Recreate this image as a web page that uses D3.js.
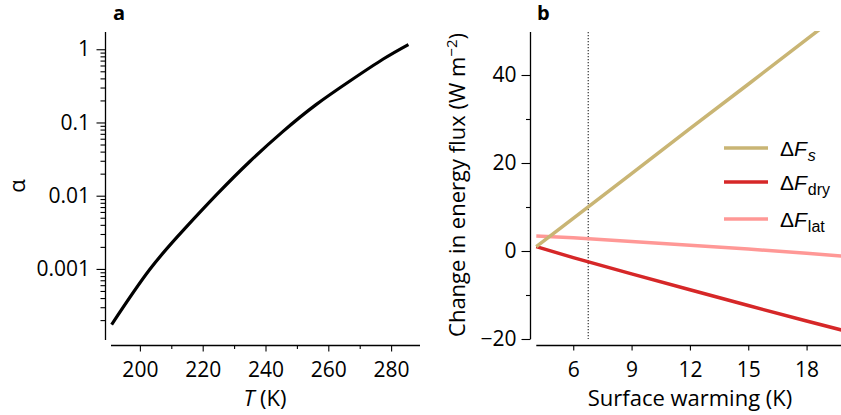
<!DOCTYPE html>
<html>
<head>
<meta charset="utf-8">
<script src="https://cdn.jsdelivr.net/npm/d3@7"></script>
<style>
  html, body { margin: 0; padding: 0; background: #fff; }
  svg { display: block; }
  text { font-family: "Open Sans", "Noto Sans", sans-serif; }
</style>
</head>
<body>
<svg id="chart" width="841" height="415"></svg>
<script>
// ---- Panel a data: alpha vs temperature ----
const tempK = [191, 203, 214, 224.5, 235, 245.5, 256, 267, 277.5, 285.5];
const alphaVals = [1.74e-4, 9.66e-4, 3.44e-3, 0.0104, 0.0293, 0.075, 0.174, 0.3715, 0.736, 1.16];
const aXTicks = [200, 220, 240, 260, 280];
const aXMinor = [210, 230, 250, 270];
const aYTicks = [0.001, 0.01, 0.1, 1];
const aYTickLabels = ["0.001", "0.01", "0.1", "1"];

// ---- Panel b data: change in energy flux vs surface warming ----
const warming = [4.1, 6, 9, 12, 15, 18, 19.8];
const dFs  = [1.0, 7.4, 17.6, 27.8, 37.9, 48.1, 54.2];
const dFdry = [1.0, -1.5, -5.2, -8.8, -12.4, -15.9, -17.95];
const dFlat = [3.4, 3.0, 2.15, 1.3, 0.45, -0.5, -1.15];
const bXTicks = [6, 9, 12, 15, 18];
const bYTicks = [-20, 0, 20, 40];
const bYMinor = [-10, 10, 30];
const refWarming = 6.77;
const seriesNames = ["s", "dry", "lat"];
const seriesColors = ["#c9b574", "#d62728", "#ff9896"];

const svg = d3.select("#chart");
const TFS = 21;   // tick font size
const LFS = 22;   // axis title font size
const padX = (tick) => 377 - 345.5 - tick - 0.71 * TFS;

// ================= Panel a =================
const ax = d3.scaleLinear().domain([190.8, 289.2]).range([111, 420]);
const ay = d3.scaleLog().domain([1.07e-4, 1.72]).range([340, 32]);
const ga = svg.append("g");

const yMinorA = [];
for (let e = -4; e <= 0; e++) for (let k = 2; k <= 9; k++) {
  const v = k * Math.pow(10, e);
  if (v >= ay.domain()[0] && v <= ay.domain()[1]) yMinorA.push(v);
}
ga.append("g").attr("transform", "translate(105.5,0)")
  .call(d3.axisLeft(ay).tickValues(yMinorA).tickSize(5).tickFormat(""))
  .call(g => g.select(".domain").remove());
ga.append("g").attr("transform", "translate(105.5,0)")
  .call(d3.axisLeft(ay).tickValues(aYTicks).tickSize(9).tickSizeOuter(0)
    .tickFormat((d, i) => aYTickLabels[i]).tickPadding(6.5))
  .call(g => g.select(".domain").attr("d", `M0,${ay.range()[1]}V${ay.range()[0]}`));

ga.append("g").attr("transform", "translate(0,345.5)")
  .call(d3.axisBottom(ax).tickValues(aXMinor).tickSize(3.5).tickFormat(""))
  .call(g => g.select(".domain").remove());
ga.append("g").attr("transform", "translate(0,345.5)")
  .call(d3.axisBottom(ax).tickValues(aXTicks).tickSize(6).tickSizeOuter(0).tickPadding(padX(6)))
  .call(g => g.select(".domain").attr("d", `M${ax.range()[0]},0H${ax.range()[1]}`));

ga.append("path")
  .datum(tempK.map((t, i) => [t, alphaVals[i]]))
  .attr("fill", "none").attr("stroke", "#000").attr("stroke-width", 3.2)
  .attr("d", d3.line().x(d => ax(d[0])).y(d => ay(d[1])).curve(d3.curveNatural));

ga.append("text").attr("x", 113).attr("y", 20)
  .attr("font-weight", "bold").attr("font-size", 20).text("a");
ga.append("text").attr("transform", "translate(25,186) rotate(-90)")
  .attr("text-anchor", "middle").attr("font-size", LFS).text("α");
const xtA = ga.append("text").attr("x", 265).attr("y", 405.5).attr("text-anchor", "middle").attr("font-size", LFS);
xtA.append("tspan").attr("font-style", "italic").text("T");
xtA.append("tspan").text(" (K)");

// ================= Panel b =================
const bx = d3.scaleLinear().domain([4.1, 19.77]).range([536.3, 841]);
const by = d3.scaleLinear().domain([-20, 50]).range([339, 31]);
const gb = svg.append("g");

svg.append("defs").append("clipPath").attr("id", "clipb")
  .append("rect").attr("x", 531).attr("y", 31).attr("width", 320).attr("height", 312);

gb.append("g").attr("transform", "translate(530.5,0)")
  .call(d3.axisLeft(by).tickValues(bYMinor).tickSize(4.5).tickFormat(""))
  .call(g => g.select(".domain").remove());
gb.append("g").attr("transform", "translate(530.5,0)")
  .call(d3.axisLeft(by).tickValues(bYTicks).tickSize(9).tickSizeOuter(0).tickPadding(5)
    .tickFormat(d => d < 0 ? "\u2212" + Math.abs(d) : d))
  .call(g => g.select(".domain").attr("d", `M0,32V${by(-20)}`));
gb.append("g").attr("transform", "translate(0,345.5)")
  .call(d3.axisBottom(bx).tickValues(bXTicks).tickSize(5).tickSizeOuter(0).tickPadding(padX(5)))
  .call(g => g.select(".domain").attr("d", `M${bx.range()[0]},0H${bx.range()[1]}`));

gb.append("line").attr("x1", bx(refWarming)).attr("x2", bx(refWarming))
  .attr("y1", 32).attr("y2", by(-20))
  .attr("stroke", "#222").attr("stroke-width", 1.1).attr("stroke-dasharray", "1.3,1.7");

const lineB = d3.line().x(d => bx(d[0])).y(d => by(d[1]));
const seriesData = [dFs, dFdry, dFlat];
const linesG = gb.append("g").attr("clip-path", "url(#clipb)");
[2, 1, 0].forEach(i => {
  linesG.append("path").datum(warming.map((w, j) => [w, seriesData[i][j]]))
    .attr("fill", "none").attr("stroke", seriesColors[i]).attr("stroke-width", 3.5)
    .attr("d", lineB);
});

const legY = [148, 182, 219];
seriesNames.forEach((n, i) => {
  gb.append("line").attr("x1", 724).attr("x2", 768).attr("y1", legY[i]).attr("y2", legY[i])
    .attr("stroke", seriesColors[i]).attr("stroke-width", 3.5);
  const t = gb.append("text").attr("x", 780).attr("y", legY[i] + 7.5)
    .style("font-family", "'Liberation Sans', Arial, sans-serif").attr("font-size", 21);
  t.append("tspan").text("Δ");
  t.append("tspan").attr("font-style", "italic").text("F");
  t.append("tspan").attr("font-size", 16).attr("dy", 5).attr("dx", 1)
    .attr("font-style", n === "s" ? "italic" : "normal").text(n);
});

gb.append("text").attr("x", 537).attr("y", 20)
  .attr("font-weight", "bold").attr("font-size", 20).text("b");
const ytB = gb.append("text").attr("transform", "translate(465,185) rotate(-90)")
  .attr("text-anchor", "middle").attr("font-size", LFS);
ytB.append("tspan").text("Change in energy flux (W m");
ytB.append("tspan").attr("font-size", 15).attr("dy", -8).text("\u22122");
ytB.append("tspan").attr("dy", 8).text(")");
gb.append("text").attr("x", 690).attr("y", 405.5).attr("text-anchor", "middle")
  .attr("font-size", LFS).text("Surface warming (K)");

svg.selectAll(".tick text").attr("font-size", TFS).attr("fill", "#000")
  .style("font-family", "'Open Sans', 'Noto Sans', sans-serif");
svg.selectAll(".tick line").attr("stroke", "#000").attr("stroke-width", 1.1);
svg.selectAll(".domain").attr("stroke", "#000").attr("stroke-width", 1.3);
</script>
</body>
</html>
